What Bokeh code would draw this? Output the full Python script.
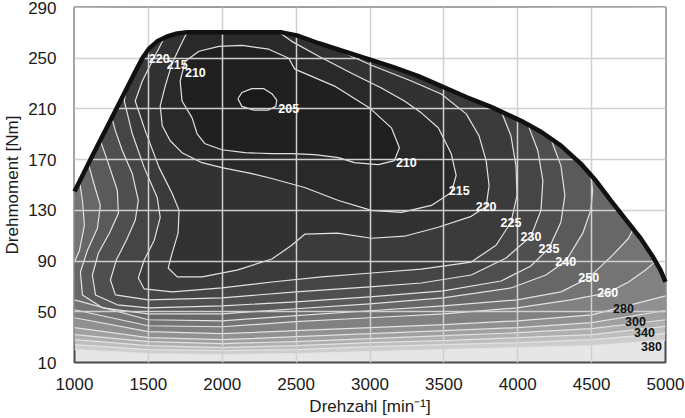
from bokeh.plotting import figure
from bokeh.models import Range1d, FixedTicker, ColumnDataSource
from bokeh.core.properties import value
from bokeh.embed import file_html
from bokeh.resources import INLINE

# ---------------- data ----------------
x_ticks = [1000, 1500, 2000, 2500, 3000, 3500, 4000, 4500, 5000]
y_ticks = [10, 50, 90, 130, 170, 210, 250, 290]

# full-load torque curve
wot_rpm = [1000, 1121, 1223, 1324, 1411, 1459, 1506, 1560, 1627, 1695, 1762, 2403, 2504, 2653, 2821,
           2990, 3158, 3327, 3482, 3651, 3819, 4022, 4157, 4292, 4426, 4528, 4629, 4730, 4831,
           4912, 4966, 5000]
wot_nm = [144.9, 173.1, 196.3, 219.4, 239.3, 250.0, 257.8, 263.3, 267.2, 269.6, 270.4, 270.4, 268.0, 261.8, 255.5,
          249.2, 242.9, 235.9, 228.0, 219.4, 211.6, 200.6, 192.0, 181.0, 166.9, 153.5, 137.8, 122.9, 108.0,
          93.9, 82.9, 73.5]

# iso-consumption lines [g/kWh]
c205_rpm = [2106, 2133, 2201, 2282, 2336, 2369, 2362, 2308, 2214, 2133]
c205_nm = [218, 223, 226, 226, 222, 217, 212, 209, 209, 212]

c210_rpm = [1884, 1830, 1796, 1728, 1715, 1749, 1843, 1978, 2133, 2315, 2450, 2491, 2760,
            2997, 3145, 3199, 3165, 3057, 2895, 2787, 2626, 2470, 2336, 2153, 1998]
c210_nm = [182.5, 190.4, 202.9, 216.3, 232.0, 247.6, 255.5, 259.4, 260.2, 257.1, 250.0, 241.4, 228.0,
           210.8, 195.1, 179.4, 169.2, 166.1, 167.6, 171.6, 173.9, 174.7, 174.7, 175.5, 177.8]

c215_rpm = [1762, 1715, 1661, 1614, 1580, 1594, 1648, 1728, 1863, 1998, 2201, 2336, 2558, 2787,
            3010, 3212, 3415, 3550, 3583, 3550, 3462, 3347, 3233, 3077, 2875, 2653, 2470, 2389]
c215_nm = [270.4, 259.4, 246.1, 228.0, 212.4, 196.7, 184.9, 175.5, 167.6, 163.7, 159.0, 155.1, 148.0, 137.8,
           130.0, 128.4, 133.9, 144.1, 157.5, 174.7, 195.1, 206.9, 216.3, 226.5, 238.2, 251.6, 263.3, 270.0]

c220_rpm = [1607, 1526, 1459, 1411, 1479, 1573, 1661, 1708, 1701, 1661, 1634, 1695, 1863, 2099,
            2336, 2470, 2558, 2781, 3010, 3233, 3462, 3685, 3786, 3806, 3786, 3738, 3651, 3482,
            3280, 3010, 2740]
c220_nm = [266.0, 247.6, 232.0, 216.3, 192.7, 163.7, 143.3, 130.0, 112.0, 96.3, 84.5, 77.5, 77.5, 82.9,
           91.6, 102.5, 111.2, 112.0, 108.0, 109.6, 116.7, 125.3, 133.1, 149.6, 169.2, 188.8, 206.1, 221.8,
           232.0, 244.5, 258.6]

c225_rpm = [1364, 1337, 1391, 1472, 1560, 1580, 1540, 1472, 1432, 1472, 1661, 1998, 2336, 2673,
            3010, 3347, 3685, 3853, 3954, 3995, 3988, 3954, 3887]
c225_nm = [234.5, 216.3, 190.4, 163.7, 140.2, 124.5, 106.5, 90.8, 76.7, 68.0, 65.7, 68.8, 73.5, 77.5,
           80.6, 83.7, 89.2, 102.5, 120.6, 141.8, 165.3, 188.8, 208.4]

c230_rpm = [1243, 1277, 1324, 1391, 1432, 1411, 1351, 1283, 1243, 1277, 1499, 1998, 2497, 2997,
            3347, 3685, 3921, 4089, 4157, 4170, 4136, 4069]
c230_nm = [207.2, 192.7, 177.0, 159.0, 137.8, 122.2, 106.5, 90.8, 75.1, 63.3, 59.4, 61.0, 65.7, 69.6,
           72.7, 79.0, 92.4, 109.6, 130.0, 153.5, 177.0, 197.6]

c235_rpm = [1169, 1223, 1290, 1297, 1236, 1162, 1121, 1142, 1290, 1499, 1998, 2497, 2997, 3496,
            3887, 4089, 4211, 4292, 4319, 4292, 4224]
c235_nm = [187.0, 169.2, 145.7, 127.6, 112.0, 96.3, 79.0, 63.3, 55.5, 53.1, 54.7, 57.8, 61.8, 66.5,
           74.3, 86.1, 100.2, 120.6, 141.8, 165.3, 186.5]

c240_rpm = [1094, 1135, 1175, 1155, 1088, 1040, 1054, 1189, 1499, 1998, 2497, 2997, 3496, 3954,
            4190, 4325, 4440, 4494, 4507, 4494]
c240_nm = [166.8, 149.6, 133.9, 115.9, 98.6, 81.4, 63.3, 53.1, 48.4, 48.4, 52.4, 56.3, 61.0, 68.8,
           79.0, 90.0, 112.0, 130.0, 145.7, 158.0]

c250a_rpm = [1034, 1054, 1067, 1034, 1000]
c250a_nm = [152.8, 137.8, 118.2, 98.6, 89.2]
c250b_rpm = [1000, 1499, 1998, 2497, 2997, 3496, 3995, 4292, 4480, 4642, 4750, 4784]
c250b_nm = [59.4, 43.7, 42.9, 46.9, 50.8, 54.7, 59.4, 65.7, 76.7, 94.7, 108.0, 115.9]

c260_rpm = [1000, 1499, 1998, 2497, 2997, 3496, 3995, 4359, 4609, 4750, 4865, 4932]
c260_nm = [51.6, 39.0, 38.2, 42.2, 45.3, 48.4, 53.1, 59.4, 64.9, 73.5, 82.9, 89.8]

low_rpm = [1000, 1500, 2000, 2500, 3000, 3500, 4000, 4500, 5000]
c280_nm = [45.3, 34.3, 32.7, 35.1, 37.5, 39.8, 42.9, 47.6, 62.5]
c300_nm = [37.5, 29.6, 28.0, 30.4, 32.7, 35.1, 37.5, 41.4, 51.0]
c320_nm = [32.0, 26.5, 24.9, 26.5, 28.8, 31.2, 33.5, 36.7, 43.7]
c340_nm = [28.0, 23.3, 21.8, 23.3, 25.7, 27.3, 29.6, 32.0, 38.5]
c360_nm = [24.1, 20.2, 19.4, 20.2, 22.5, 24.1, 25.7, 28.0, 33.0]
c380_nm = [20.2, 17.1, 16.3, 17.1, 18.6, 20.2, 21.8, 23.3, 27.5]

# contour labels
lab_text = ["220", "215", "210", "205", "210", "215", "220", "225", "230", "235", "240",
            "250", "260", "280", "300", "340", "380"]
lab_rpm = [1573, 1695, 1818, 2450, 3246, 3604, 3786, 3954, 4089, 4211, 4325,
           4480, 4609, 4716, 4797, 4858, 4905]
lab_nm = [250.0, 245.3, 238.5, 210.0, 167.6, 145.7, 133.1, 120.6, 109.6, 100.2, 90.0,
          76.7, 64.9, 52.4, 42.2, 33.5, 22.5]
lab_color = ["#ffffff"] * 13 + ["#111111"] * 4

# ---------------- assemble levels (highest first) ----------------
levels = [
    ([(low_rpm, c380_nm)], False, "#cdcdcd"),
    ([(low_rpm, c360_nm)], False, "#bebebe"),
    ([(low_rpm, c340_nm)], False, "#afafaf"),
    ([(low_rpm, c320_nm)], False, "#a0a0a0"),
    ([(low_rpm, c300_nm)], False, "#919191"),
    ([(low_rpm, c280_nm)], False, "#818181"),
    ([(c260_rpm, c260_nm)], False, "#747474"),
    ([(c250a_rpm, c250a_nm), (c250b_rpm, c250b_nm)], False, "#676767"),
    ([(c240_rpm, c240_nm)], False, "#5a5a5a"),
    ([(c235_rpm, c235_nm)], False, "#4f4f4f"),
    ([(c230_rpm, c230_nm)], False, "#454545"),
    ([(c225_rpm, c225_nm)], False, "#3b3b3b"),
    ([(c220_rpm, c220_nm)], False, "#323232"),
    ([(c215_rpm, c215_nm)], False, "#292929"),
    ([(c210_rpm, c210_nm)], True, "#202020"),
    ([(c205_rpm, c205_nm)], True, "#1a1a1a"),
]

p = figure(width=685, height=418, x_range=Range1d(1000, 5000), y_range=Range1d(10, 290),
           output_backend="svg", toolbar_location=None,
           min_border_top=7, min_border_right=20, min_border_left=0, min_border_bottom=0,
           background_fill_color="#e6e6e6", border_fill_color="white")

line_xs, line_ys = [], []
for pieces, closed, col in levels:
    xs, ys = [], []
    for r, n in pieces:
        xs += list(r)
        ys += list(n)
        if closed:
            line_xs.append(list(r) + [r[0]])
            line_ys.append(list(n) + [n[0]])
        else:
            line_xs.append(list(r))
            line_ys.append(list(n))
    if not closed:
        xs += [xs[-1], xs[0]]
        ys += [300, 300]
    p.patch(xs, ys, fill_color=col, line_color=None)

p.multi_line(line_xs, line_ys, line_color="#e2e2e2", line_width=1.2, line_join="round")

# area above the full-load curve
p.patch(wot_rpm + [5000, 1000], wot_nm + [300, 300], fill_color="white", line_color=None)

wot = p.line(wot_rpm, wot_nm, line_color="#111111", line_width=4.5, line_join="round")
wot.level = "overlay"

src = ColumnDataSource(dict(x=lab_rpm, y=lab_nm, t=lab_text, c=lab_color))
lr = p.text(x="x", y="y", text="t", text_color="c", source=src,
            text_font=value("Liberation Sans"), text_font_size="12.5px",
            text_font_style="bold", text_align="center", text_baseline="middle")
lr.level = "overlay"

# grid on top of the map
p.xgrid.ticker = FixedTicker(ticks=x_ticks)
p.ygrid.ticker = FixedTicker(ticks=y_ticks)
for g in (p.xgrid[0], p.ygrid[0]):
    g.grid_line_color = "#d0d0d0"
    g.grid_line_width = 1.5
    g.level = "annotation"

p.xaxis.ticker = FixedTicker(ticks=x_ticks)
p.yaxis.ticker = FixedTicker(ticks=y_ticks)
p.xaxis.axis_label = "Drehzahl [min\u207b\u00b9]"
p.yaxis.axis_label = "Drehmoment [Nm]"
for ax in (p.xaxis[0], p.yaxis[0]):
    ax.axis_line_color = None
    ax.major_tick_line_color = None
    ax.minor_tick_line_color = None
    ax.major_tick_out = 0
    ax.major_tick_in = 0
    ax.major_label_text_font = "Liberation Sans"
    ax.major_label_text_font_size = "17px"
    ax.major_label_text_color = "#1a1a1a"
    ax.axis_label_text_font = "Liberation Sans"
    ax.axis_label_text_font_size = "17px"
    ax.axis_label_text_font_style = "normal"
    ax.axis_label_text_color = "#1a1a1a"
p.xaxis.major_label_standoff = 15
p.yaxis.major_label_standoff = 18
p.xaxis.axis_label_standoff = 4
p.yaxis.axis_label_standoff = 3

p.outline_line_color = "#4a4a4a"
p.outline_line_width = 2

open("out.html", "w").write(file_html(p, INLINE))
